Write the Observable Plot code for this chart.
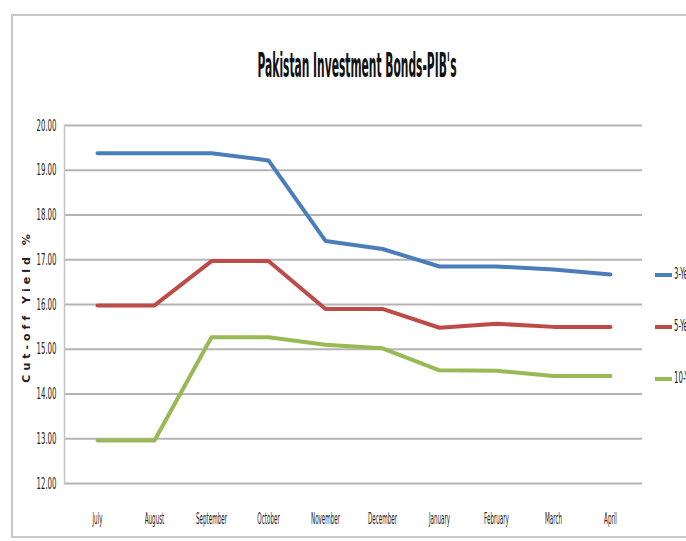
<!DOCTYPE html>
<html>
<head>
<meta charset="utf-8">
<script src="https://cdn.jsdelivr.net/npm/d3@7"></script>
<script src="https://cdn.jsdelivr.net/npm/@observablehq/plot@0.6"></script>
<style>
  html, body { margin: 0; padding: 0; background: #fff; overflow: hidden; width: 686px; height: 541px; }
  #wrap { position: relative; width: 686px; height: 541px; overflow: hidden; }
  #border { position: absolute; left: 11px; top: 14px; width: 700px; height: 524px; border: 2px solid #c8c8c8; box-sizing: border-box; }
  #title { position: absolute; left: 357px; top: 45px; font-family: "DejaVu Sans", sans-serif; font-size: 34px; font-weight: bold; color: #111; transform-origin: 0 0; white-space: nowrap; line-height: 1.2; }
  #chart { position: absolute; left: 0; top: 0; }
  .li { position: absolute; left: 655px; height: 14px; white-space: nowrap; }
  .sw { position: absolute; left: 0; top: 5px; width: 17px; height: 4px; }
  .lt { position: absolute; left: 19px; top: -4px; font-family: "DejaVu Sans", sans-serif; font-size: 16px; color: #222; transform-origin: 0 0; }
  #chart svg text { font-family: "DejaVu Sans", sans-serif; }
  #chart svg g[aria-label="x-axis tick label"], #chart svg g[aria-label="y-axis tick label"] { font-size: 16px; }
</style>
</head>
<body>
<div id="wrap">
  <div id="border"></div>
  <div id="chart"></div>
  <div id="title">Pakistan Investment Bonds-PIB's</div>
  <div id="legend"></div>
</div>
<script>
const months = ["July","August","September","October","November","December","January","February","March","April"];
const seriesNames = ["3-Year","5-Year","10-Year"];
const colors = ["#4a7ebb","#be4b48","#98b954"];
const threeYear = [19.38,19.38,19.38,19.22,17.42,17.24,16.85,16.85,16.78,16.67];
const fiveYear  = [15.98,15.98,16.97,16.97,15.90,15.90,15.48,15.57,15.50,15.50];
const tenYear   = [12.96,12.96,15.27,15.27,15.10,15.02,14.53,14.52,14.40,14.40];
const yTicks = [12,13,14,15,16,17,18,19,20];

const allSeries = [threeYear, fiveYear, tenYear];
const data = [];
allSeries.forEach((vals, si) => vals.forEach((v, i) => data.push({series: seriesNames[si], month: months[i], value: v})));

const chart = Plot.plot({
  width: 686,
  height: 541,
  marginTop: 125,
  marginBottom: 58,
  marginLeft: 64,
  marginRight: 44,
  style: {background: "transparent", fontSize: "16px", color: "#222"},
  x: {type: "point", domain: months, padding: 0.5, label: null, tickSize: 0, tickPadding: 29},
  y: {domain: [12, 20], ticks: yTicks, tickFormat: d => d.toFixed(2), label: null, tickSize: 0, tickPadding: 8},
  color: {domain: seriesNames, range: colors},
  marks: [
    Plot.ruleY(yTicks, {stroke: "#b4b4b4", strokeWidth: 2}),
    Plot.frame({anchor: "left", stroke: "#c4c4c4", strokeWidth: 1.5}),
    Plot.line(data, {x: "month", y: "value", z: "series", stroke: "series", strokeWidth: 4, strokeLinejoin: "round"}),
    Plot.text(["Cut-off Yield %"], {frameAnchor: "left", dx: -38, dy: 2, rotate: -90, textAnchor: "middle", text: d => d, fontWeight: "bold", fontSize: 11, fill: "#222"})
  ]
});
document.getElementById("chart").appendChild(chart);

chart.querySelectorAll("text").forEach(t => {
  if (t.textContent === "Cut-off Yield %") t.setAttribute("letter-spacing", "4");
});

// horizontally condense text to match the squeezed look of the reference
function squeeze(t, s) {
  const x = +t.getAttribute("x") || 0, y = +t.getAttribute("y") || 0;
  const prev = t.getAttribute("transform") || "";
  t.setAttribute("transform", `${prev} translate(${x},${y}) scale(${s},1) translate(${-x},${-y})`.trim());
}
function scaleFor(sel, sample, target) {
  const el = [...chart.querySelectorAll(sel)].find(t => t.textContent === sample);
  return el ? target / el.getComputedTextLength() : 0.4;
}
const xSel = 'g[aria-label="x-axis tick label"] text';
const ySel = 'g[aria-label="y-axis tick label"] text';
const sx = scaleFor(xSel, "September", 31);
const sy = scaleFor(ySel, "20.00", 20);
chart.querySelectorAll(xSel).forEach(t => squeeze(t, sx));
chart.querySelectorAll(ySel).forEach(t => squeeze(t, sy));

// title: centre at x=357, width ~199px
const title = document.getElementById("title");
const tw = title.getBoundingClientRect().width;
title.style.transform = `scaleX(${199 / tw}) translateX(-50%)`;

const legend = document.getElementById("legend");
const legendTops = [268, 320, 372];
seriesNames.forEach((n, i) => {
  const d = document.createElement("div");
  d.className = "li";
  d.style.top = legendTops[i] + "px";
  d.innerHTML = `<span class="sw" style="background:${colors[i]}"></span><span class="lt" style="transform:scaleX(${sy})">${n}</span>`;
  legend.appendChild(d);
});
</script>
</body>
</html>
